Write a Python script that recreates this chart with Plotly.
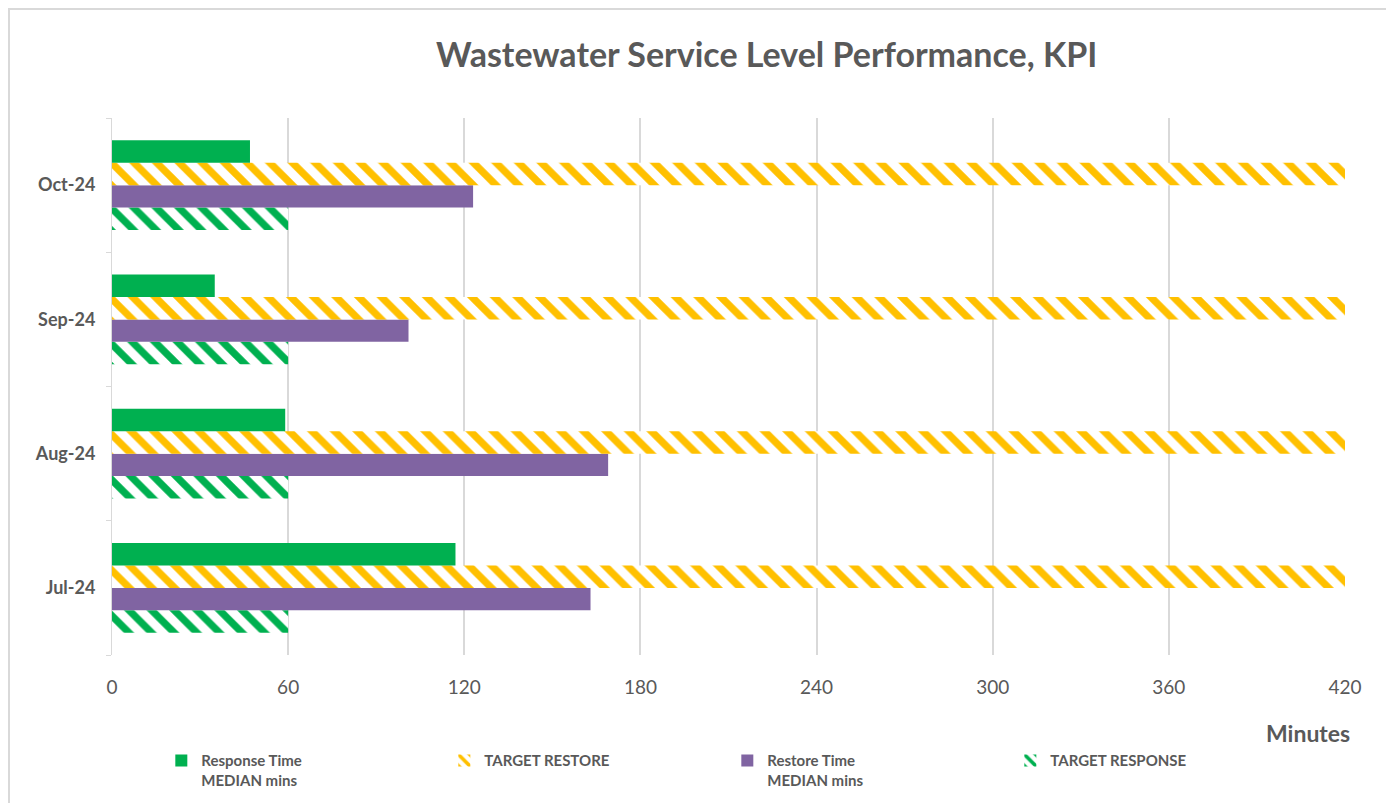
import plotly.graph_objects as go

months = ['Jul-24', 'Aug-24', 'Sep-24', 'Oct-24']
response_median = [117, 59, 35, 47]
restore_median = [163, 169, 101, 123]
target_restore = [420, 420, 420, 420]
target_response = [60, 60, 60, 60]

GREEN = '#00B050'
YELLOW = '#FFC000'
PURPLE = '#8064A2'
GREY = '#595959'

fig = go.Figure()

# plotly draws the first trace at the bottom of each group, so add them bottom-up
fig.add_trace(go.Bar(y=months, x=target_response, orientation='h', name='<b>TARGET RESPONSE</b>',
                     marker=dict(color='white', line=dict(width=0),
                                 pattern=dict(shape='\\', fgcolor=GREEN, bgcolor='white',
                                              fgopacity=1, size=16, solidity=0.45))))
fig.add_trace(go.Bar(y=months, x=restore_median, orientation='h',
                     name='<b>Restore Time<br>MEDIAN mins</b>',
                     marker=dict(color=PURPLE, line=dict(width=0))))
fig.add_trace(go.Bar(y=months, x=target_restore, orientation='h', name='<b>TARGET RESTORE</b>',
                     marker=dict(color='white', line=dict(width=0),
                                 pattern=dict(shape='\\', fgcolor=YELLOW, bgcolor='white',
                                              fgopacity=1, size=16, solidity=0.45))))
fig.add_trace(go.Bar(y=months, x=response_median, orientation='h',
                     name='<b>Response Time<br>MEDIAN mins</b>',
                     marker=dict(color=GREEN, line=dict(width=0))))

fig.update_layout(
    width=1394, height=803,
    margin=dict(l=104, r=57, t=110, b=156, autoexpand=False),
    paper_bgcolor='white', plot_bgcolor='white',
    font=dict(family='Lato, Open Sans, sans-serif', color=GREY),
    title=dict(text='<b>Wastewater Service Level Performance, KPI</b>',
               xref='paper', x=0.531, xanchor='center', y=0.9415, yanchor='middle',
               font=dict(size=34, color=GREY)),
    barmode='group', bargap=0.33, bargroupgap=0,
    showlegend=True,
    legend=dict(orientation='h', traceorder='reversed', x=0.04, xanchor='left',
                y=-0.166, yanchor='top', entrywidth=238, entrywidthmode='pixels',
                font=dict(size=15, color=GREY), itemwidth=30, valign='top'),
    xaxis=dict(range=[0, 420], tickvals=[0, 60, 120, 180, 240, 300, 360, 420],
               showgrid=True, gridcolor='#D9D9D9', gridwidth=2, zeroline=False,
               tickfont=dict(size=19, color=GREY), ticks='', showline=False,
               ticklabelstandoff=19),
    yaxis=dict(tickfont=dict(size=18, color=GREY), showline=True, linecolor='#D9D9D9',
               linewidth=1, ticks='outside', tickson='boundaries', ticklen=5,
               tickcolor='#D9D9D9', showgrid=False, ticklabelstandoff=12),
)
# bold category labels
fig.update_yaxes(tickvals=months, ticktext=['<b>%s</b>' % m for m in months])

fig.add_annotation(text='<b>Minutes</b>', xref='paper', yref='paper', x=1.006, y=-0.145,
                   xanchor='right', yanchor='middle', showarrow=False,
                   font=dict(size=23, color=GREY))

# outer chart border
fig.add_shape(type='rect', xref='paper', yref='paper',
              x0=-103 / 1233, x1=1277 / 1233, y0=1 - 700 / 537, y1=1 + 109 / 537,
              line=dict(color='#D9D9D9', width=2))

fig.write_html('out.html')
